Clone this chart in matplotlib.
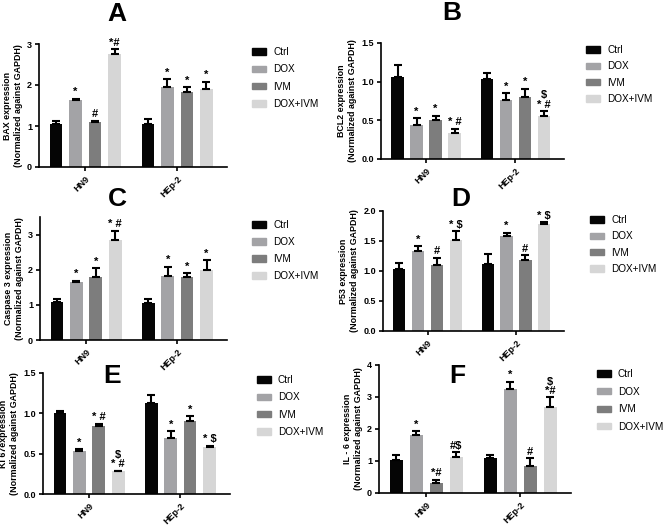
import numpy as np
import matplotlib.pyplot as plt
from matplotlib.patches import Patch

plt.rcParams['font.family'] = ['Liberation Sans', 'DejaVu Sans']

groups = ['HN9', 'HEp-2']
treatments = ['Ctrl', 'DOX', 'IVM', 'DOX+IVM']
colors = ['#050505', '#a3a3a6', '#7d7d7d', '#d6d6d6']

# values per group: [Ctrl, DOX, IVM, DOX+IVM]
bax_hn9 = [1.05, 1.64, 1.10, 2.76]
bax_hn9_err = [0.08, 0.03, 0.03, 0.12]
bax_hep = [1.05, 1.94, 1.84, 1.91]
bax_hep_err = [0.11, 0.20, 0.11, 0.17]
bax_hn9_sig = ['', '*', '#', '*#']
bax_hep_sig = ['', '*', '*', '*']

bcl2_hn9 = [1.06, 0.44, 0.51, 0.34]
bcl2_hn9_err = [0.15, 0.09, 0.05, 0.05]
bcl2_hep = [1.03, 0.76, 0.80, 0.56]
bcl2_hep_err = [0.08, 0.09, 0.11, 0.06]
bcl2_hn9_sig = ['', '*', '*', '* #']
bcl2_hep_sig = ['', '*', '*', '$\n* #']

casp_hn9 = [1.07, 1.64, 1.80, 2.85]
casp_hn9_err = [0.10, 0.05, 0.25, 0.26]
casp_hep = [1.06, 1.81, 1.79, 1.98]
casp_hep_err = [0.10, 0.28, 0.11, 0.30]
casp_hn9_sig = ['', '*', '*', '* #']
casp_hep_sig = ['', '*', '*', '*']

p53_hn9 = [1.03, 1.34, 1.10, 1.52]
p53_hn9_err = [0.10, 0.07, 0.12, 0.14]
p53_hep = [1.12, 1.58, 1.19, 1.78]
p53_hep_err = [0.16, 0.06, 0.07, 0.03]
p53_hn9_sig = ['', '*', '#', '* $']
p53_hep_sig = ['', '*', '#', '* $']

ki67_hn9 = [1.00, 0.53, 0.84, 0.28]
ki67_hn9_err = [0.03, 0.03, 0.03, 0.01]
ki67_hep = [1.13, 0.69, 0.91, 0.58]
ki67_hep_err = [0.10, 0.09, 0.06, 0.02]
ki67_hn9_sig = ['', '*', '* #', '$\n* #']
ki67_hep_sig = ['', '*', '*', '* $']

il6_hn9 = [1.04, 1.81, 0.32, 1.12]
il6_hn9_err = [0.16, 0.12, 0.10, 0.15]
il6_hep = [1.08, 3.24, 0.84, 2.69]
il6_hep_err = [0.12, 0.24, 0.24, 0.30]
il6_hn9_sig = ['', '*', '*#', '#$']
il6_hep_sig = ['', '*', '#', '$\n*#']

panels = [
    ('A', 'BAX expression', bax_hn9, bax_hn9_err, bax_hep, bax_hep_err, bax_hn9_sig, bax_hep_sig, 3, [0, 1, 2, 3]),
    ('B', 'BCL2 expression', bcl2_hn9, bcl2_hn9_err, bcl2_hep, bcl2_hep_err, bcl2_hn9_sig, bcl2_hep_sig, 1.5, [0.0, 0.5, 1.0, 1.5]),
    ('C', 'Caspase 3 expression', casp_hn9, casp_hn9_err, casp_hep, casp_hep_err, casp_hn9_sig, casp_hep_sig, 3.5, [0, 1, 2, 3]),
    ('D', 'P53 expression', p53_hn9, p53_hn9_err, p53_hep, p53_hep_err, p53_hn9_sig, p53_hep_sig, 2.0, [0.0, 0.5, 1.0, 1.5, 2.0]),
    ('E', 'Ki 67expression', ki67_hn9, ki67_hn9_err, ki67_hep, ki67_hep_err, ki67_hn9_sig, ki67_hep_sig, 1.5, [0.0, 0.5, 1.0, 1.5]),
    ('F', 'IL - 6 expression', il6_hn9, il6_hn9_err, il6_hep, il6_hep_err, il6_hn9_sig, il6_hep_sig, 4, [0, 1, 2, 3, 4]),
]

# pixel boxes: left, right, bottom(y0), top ; title pos ; legend pos, legend row step
boxes = [
    (39, 227, 167, 44, (117, 14), (252, 47), 17),
    (381, 564, 159, 43, (452, 13), (586, 45), 16),
    (40, 227, 340, 217, (117, 199), (252, 220), 16.7),
    (383, 564, 331, 211, (461, 199), (590, 215), 16),
    (43, 230, 494, 373, (112, 376), (257, 375), 17),
    (379, 571, 493, 365, (457, 376), (597, 369), 17.3),
]

W, H = 669, 528
fig = plt.figure(figsize=(W / 100, H / 100), dpi=100)

pos1 = np.arange(4)
pos2 = np.arange(4) + 4.7
width = 0.65
lfs = 7.2
fpx = lfs * 100 / 72

for (letter, ylab, v1, e1, v2, e2, s1, s2, ymax, yt), (l, r, b, t, tp, lp, lstep) in zip(panels, boxes):
    ax = fig.add_axes([l / W, 1 - b / H, (r - l) / W, (b - t) / H])
    for pos, vals, errs, sig in [(pos1, v1, e1, s1), (pos2, v2, e2, s2)]:
        ax.bar(pos, vals, width, color=colors,
               yerr=[np.zeros(4), errs], capsize=3,
               error_kw=dict(elinewidth=1.5, capthick=1.5, ecolor='black'))
        for x, v, e, s in zip(pos, vals, errs, sig):
            if s:
                ax.annotate(s, (x, v + e), xytext=(0, 1), textcoords='offset points',
                            ha='center', va='bottom', fontsize=8, fontweight='bold',
                            linespacing=0.9, annotation_clip=False)
    ax.set_xlim(-0.87, 8.75)
    ax.set_ylim(0, ymax)
    ax.set_yticks(yt)
    if isinstance(yt[1], float):
        ax.set_yticklabels(['%.1f' % y for y in yt])
    ax.set_xticks([pos1.mean(), pos2.mean()])
    ax.set_xticklabels(groups, rotation=45, ha='right', rotation_mode='anchor')
    ax.tick_params(labelsize=6.5, width=1.2, length=3, pad=2)
    for lab in ax.get_xticklabels() + ax.get_yticklabels():
        lab.set_fontweight('bold')
    ax.spines['top'].set_visible(False)
    ax.spines['right'].set_visible(False)
    ax.spines['left'].set_linewidth(1.2)
    ax.spines['bottom'].set_linewidth(1.2)
    ax.set_ylabel(ylab + '\n(Normalized against GAPDH)', fontsize=6.4, fontweight='bold',
                  labelpad=3, linespacing=1.3)
    fig.text(tp[0] / W, 1 - tp[1] / H, letter, fontsize=19, fontweight='bold', ha='center', va='center')
    handles = [Patch(color=c, label=n) for c, n in zip(colors, treatments)]
    ax.legend(handles=handles, loc='upper left', bbox_to_anchor=(lp[0] / W, 1 - lp[1] / H),
              bbox_transform=fig.transFigure, frameon=False, fontsize=lfs,
              handlelength=13.5 / fpx, handleheight=0.6, labelspacing=lstep / fpx - 0.97,
              handletextpad=7.5 / fpx, borderaxespad=0, borderpad=0)

fig.savefig('out.png', dpi=100)
